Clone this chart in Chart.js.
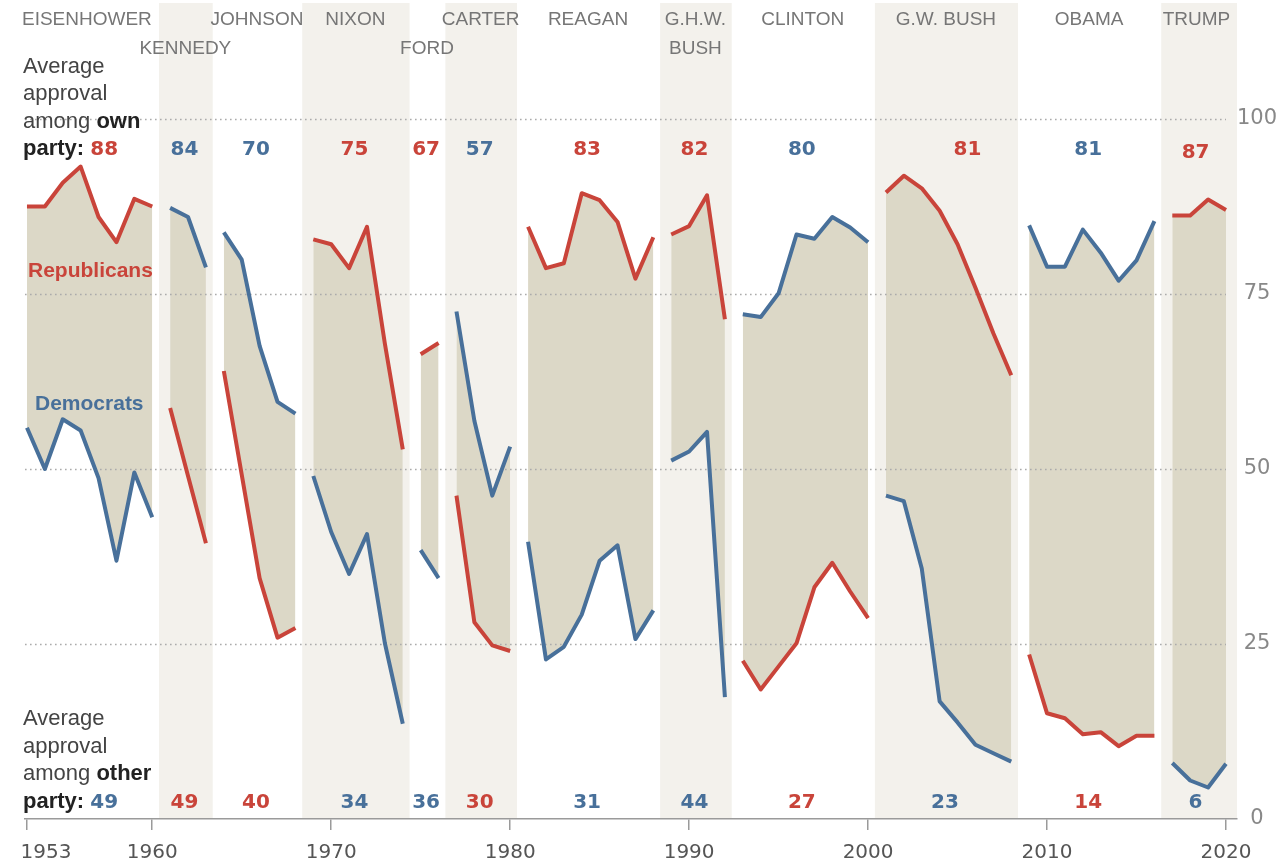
<!DOCTYPE html>
<html>
<head>
<meta charset="utf-8">
<script src="https://cdn.jsdelivr.net/npm/chart.js@4.4.1/dist/chart.umd.min.js"></script>
<style>
  html, body { margin: 0; padding: 0; background: #fff; overflow: hidden; }
  canvas { display: block; }
</style>
</head>
<body>
<canvas id="chart" width="1281" height="864"></canvas>
<script>
// presidents, in order, with the years each one covers
const presidents = ['EISENHOWER', 'KENNEDY', 'JOHNSON', 'NIXON', 'FORD', 'CARTER', 'REAGAN', 'G.H.W.|BUSH', 'CLINTON', 'G.W. BUSH', 'OBAMA', 'TRUMP'];
const presParty = ['R', 'D', 'D', 'R', 'R', 'D', 'R', 'R', 'D', 'R', 'D', 'R'];
const termStart = [1953, 1961, 1964, 1969, 1975, 1977, 1981, 1989, 1993, 2001, 2009, 2017];
const termEnd   = [1960, 1963, 1968, 1974, 1976, 1980, 1988, 1992, 2000, 2008, 2016, 2020];

// yearly approval, 1953..2020
const repApproval = [
  87.5, 87.5, 90.9, 93.2, 86.0, 82.4, 88.6, 87.5,
  58.7, 49.0, 39.4,
  64.0, 49.2, 34.4, 25.9, 27.3,
  82.8, 82.1, 78.7, 84.6, 67.9, 52.8,
  66.4, 68.0,
  46.2, 28.1, 24.8, 24.0,
  84.6, 78.7, 79.4, 89.4, 88.4, 85.3, 77.2, 83.1,
  83.5, 84.7, 89.1, 71.4,
  22.6, 18.5, 21.8, 25.1, 33.1, 36.6, 32.5, 28.7,
  89.5, 91.9, 90.1, 86.9, 82.1, 75.9, 69.4, 63.4,
  23.5, 15.1, 14.4, 12.1, 12.4, 10.4, 11.9, 11.9,
  86.2, 86.2, 88.5, 87.0
];
const demApproval = [
  55.9, 50.0, 57.1, 55.5, 48.7, 36.9, 49.5, 43.1,
  87.3, 86.0, 78.8,
  83.8, 79.9, 67.6, 59.6, 57.9,
  49.0, 41.0, 35.0, 40.7, 25.1, 13.6,
  38.4, 34.4,
  72.5, 56.9, 46.2, 53.2,
  39.6, 22.8, 24.6, 29.2, 36.9, 39.1, 25.7, 29.8,
  51.2, 52.5, 55.3, 17.4,
  72.1, 71.7, 75.1, 83.5, 82.9, 86.0, 84.5, 82.4,
  46.2, 45.4, 35.8, 16.8, 13.8, 10.6, 9.4, 8.2,
  84.8, 78.9, 78.9, 84.2, 80.9, 76.9, 79.8, 85.4,
  8.0, 5.5, 4.5, 7.9
];

// averages printed above and below each term
const ownPartyAvg   = [88, 84, 70, 75, 67, 57, 83, 82, 80, 81, 81, 87];
const otherPartyAvg = [49, 49, 40, 34, 36, 30, 31, 44, 27, 23, 14, 6];

const xTicks = [1953, 1960, 1970, 1980, 1990, 2000, 2010, 2020];
const yTicks = [0, 25, 50, 75, 100];

const RED = '#c9443a';
const BLUE = '#48709a';
const AREA = '#dcd8c7';
const BAND = '#f3f1ec';
const SANS = '"Liberation Sans", Arial, sans-serif';
const NUM = '"DejaVu Sans", sans-serif';

// one point per year, with a null after each term so the lines break
function series(values) {
  const pts = [];
  let i = 0;
  termStart.forEach((start, p) => {
    for (let yr = start; yr <= termEnd[p]; yr++) pts.push({ x: yr, y: values[i++] });
    pts.push({ x: termEnd[p] + 0.5, y: null });
  });
  return pts;
}

const nameRow = [0, 1, 0, 0, 1, 0, 0, 0, 0, 0, 0, 0];
const ownNudge = [0, 0, 0, 0, 0, 0, 0, 0, 0, 1.25, 0, 0];

function mixedLine(ctx, x, y, parts) {
  parts.forEach(([text, font, color]) => {
    ctx.font = font;
    ctx.fillStyle = color;
    ctx.fillText(text, x, y);
    x += ctx.measureText(text).width;
  });
}

const decor = {
  id: 'decor',
  beforeDraw(chart) {
    const { ctx, chartArea, scales: { x } } = chart;
    ctx.save();
    ctx.fillStyle = BAND;
    presidents.forEach((name, p) => {
      if (p % 2 === 0) return;
      const x0 = x.getPixelForValue(termStart[p] - 0.62);
      const x1 = p === presidents.length - 1 ? chartArea.right : x.getPixelForValue(termEnd[p] + 0.38);
      ctx.fillRect(x0, 3, x1 - x0, chartArea.bottom - 3);
    });
    ctx.restore();
  },
  beforeDatasetsDraw(chart) {
    const { ctx, chartArea, scales: { x, y } } = chart;
    ctx.save();
    ctx.strokeStyle = '#ababab';
    ctx.lineWidth = 1.6;
    ctx.setLineDash([1.6, 3.4]);
    yTicks.filter(v => v > 0).forEach(v => {
      const py = Math.round(y.getPixelForValue(v)) + 0.5;
      ctx.beginPath();
      ctx.moveTo(chartArea.left, py);
      ctx.lineTo(x.getPixelForValue(2020), py);
      ctx.stroke();
    });
    ctx.restore();
  },
  afterDraw(chart) {
    const { ctx, scales: { x } } = chart;
    ctx.save();
    ctx.textBaseline = 'alphabetic';

    // president names
    ctx.textAlign = 'center';
    ctx.font = '19px ' + SANS;
    ctx.fillStyle = '#767676';
    presidents.forEach((name, p) => {
      const cx = x.getPixelForValue((termStart[p] + termEnd[p]) / 2 - 0.15);
      name.split('|').forEach((line, k) => {
        ctx.fillText(line, cx, 25 + (nameRow[p] + k) * 28.5);
      });
    });

    // averages
    ctx.font = 'bold 20px ' + NUM;
    presidents.forEach((name, p) => {
      if (p === 0) return;
      const mid = (termStart[p] + termEnd[p]) / 2 - 0.2;
      ctx.fillStyle = presParty[p] === 'R' ? RED : BLUE;
      ctx.fillText(String(ownPartyAvg[p]), x.getPixelForValue(mid + ownNudge[p]), p === presidents.length - 1 ? 158 : 155);
      ctx.fillStyle = presParty[p] === 'R' ? BLUE : RED;
      ctx.fillText(String(otherPartyAvg[p]), x.getPixelForValue(mid), 808);
    });

    // left notes
    ctx.textAlign = 'left';
    const reg = '22px ' + SANS;
    const bold = 'bold 22px ' + SANS;
    const num = 'bold 20px ' + NUM;
    [[72.5, 'own', ownPartyAvg[0], RED], [725, 'other', otherPartyAvg[0], BLUE]].forEach(([top, word, val, col]) => {
      mixedLine(ctx, 23, top, [['Average', reg, '#444']]);
      mixedLine(ctx, 23, top + 27.5, [['approval', reg, '#444']]);
      mixedLine(ctx, 23, top + 55, [['among ', reg, '#444'], [word, bold, '#222']]);
      mixedLine(ctx, 23, top + 82.5, [['party: ', bold, '#222'], [String(val), num, col]]);
    });

    ctx.font = 'bold 21px ' + SANS;
    ctx.fillStyle = RED;
    ctx.fillText('Republicans', 28, 276.5);
    ctx.fillStyle = BLUE;
    ctx.fillText('Democrats', 35, 410);
    ctx.restore();
  }
};

new Chart(document.getElementById('chart'), {
  type: 'line',
  data: {
    datasets: [
      {
        label: 'Republicans',
        data: series(repApproval),
        borderColor: RED,
        backgroundColor: AREA,
        borderWidth: 4,
        borderJoinStyle: 'round',
        pointRadius: 0,
        fill: '+1'
      },
      {
        label: 'Democrats',
        data: series(demApproval),
        borderColor: BLUE,
        borderWidth: 4,
        borderJoinStyle: 'round',
        pointRadius: 0,
        fill: false
      }
    ]
  },
  options: {
    responsive: false,
    animation: false,
    devicePixelRatio: 1,
    layout: { padding: { left: 25, top: 0, right: 0, bottom: 0 } },
    plugins: {
      legend: { display: false },
      tooltip: { enabled: false },
      filler: { drawTime: 'beforeDatasetsDraw' }
    },
    scales: {
      x: {
        type: 'linear',
        position: 'bottom',
        min: 1952.89,
        max: 2020.615,
        afterBuildTicks: scale => { scale.ticks = xTicks.map(v => ({ value: v })); },
        afterFit: scale => { scale.height = 45; scale.paddingLeft = 0; scale.paddingRight = 0; },
        grid: { drawOnChartArea: false, drawTicks: true, tickLength: 11, color: '#9a9a9a', lineWidth: 1.5 },
        border: { display: true, color: '#9a9a9a', width: 1.5 },
        ticks: {
          autoSkip: false,
          maxRotation: 0,
          padding: 11,
          color: '#555',
          font: { family: NUM, size: 20 },
          // first year label sits just right of its tick, as in the original
          callback: v => (v === xTicks[0] ? '\u2007\u2007\u2007' : '') + String(v)
        }
      },
      y: {
        position: 'right',
        min: 0,
        max: 117,
        afterBuildTicks: scale => { scale.ticks = yTicks.map(v => ({ value: v })); },
        afterFit: scale => { scale.width = 44; scale.paddingTop = 0; scale.paddingBottom = 0; },
        grid: { display: false, drawTicks: false },
        border: { display: false },
        ticks: {
          crossAlign: 'center',
          padding: 0,
          color: '#888',
          font: { family: NUM, size: 21 },
          callback: v => String(v)
        }
      }
    }
  },
  plugins: [decor]
});
</script>
</body>
</html>
